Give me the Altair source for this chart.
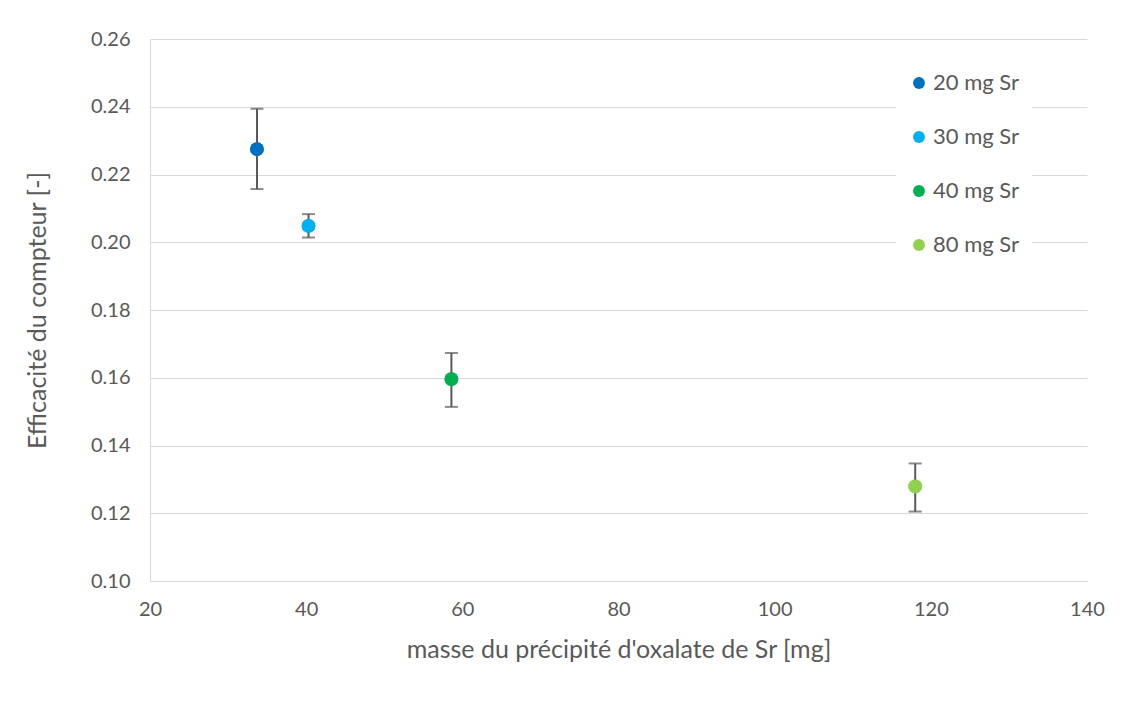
import altair as alt
import pandas as pd

series = ["20 mg Sr", "30 mg Sr", "40 mg Sr", "80 mg Sr"]
masse = [33.7, 40.3, 58.6, 118.0]
efficacite = [0.2275, 0.2048, 0.1596, 0.1279]
err_haut = [0.2394, 0.2083, 0.1673, 0.1347]
err_bas = [0.2157, 0.2014, 0.1514, 0.1205]
couleurs = ["#0070C0", "#00B0F0", "#00B050", "#92D050"]

df = pd.DataFrame({
    "serie": series,
    "x": masse,
    "y": efficacite,
    "hi": err_haut,
    "lo": err_bas,
})

FONT = "Lato"
GREY = "#595959"

xscale = alt.Scale(domain=[20, 140], nice=False, zero=False)
yscale = alt.Scale(domain=[0.10, 0.26], nice=False, zero=False)

base = alt.Chart(df)

x_enc = alt.X("x:Q", scale=xscale,
              axis=alt.Axis(values=[20, 40, 60, 80, 100, 120, 140], grid=False,
                            ticks=False, domain=True, domainColor="#d9d9d9",
                            labelFlush=False, labelPadding=18, titlePadding=18,
                            title="masse du précipité d'oxalate de Sr [mg]"))
y_enc = alt.Y("y:Q", scale=yscale,
              axis=alt.Axis(values=[0.10, 0.12, 0.14, 0.16, 0.18, 0.20, 0.22, 0.24, 0.26],
                            format=".2f", grid=True, gridColor="#d9d9d9",
                            ticks=False, domain=True, domainColor="#d9d9d9",
                            labelFlush=False, labelPadding=20, titlePadding=40,
                            title="Efficacité du compteur [-]"))

rule = base.mark_rule(color=GREY, strokeWidth=2).encode(
    x=alt.X("x:Q", scale=xscale),
    y=alt.Y("lo:Q", scale=yscale),
    y2="hi:Q",
)
cap_hi = base.mark_tick(color=GREY, thickness=2, size=13, orient="horizontal").encode(
    x=alt.X("x:Q", scale=xscale),
    y=alt.Y("hi:Q", scale=yscale),
)
cap_lo = base.mark_tick(color=GREY, thickness=2, size=13, orient="horizontal").encode(
    x=alt.X("x:Q", scale=xscale),
    y=alt.Y("lo:Q", scale=yscale),
)
points = base.mark_circle(size=190, opacity=1).encode(
    x=x_enc,
    y=y_enc,
    color=alt.Color("serie:N",
                    scale=alt.Scale(domain=series, range=couleurs),
                    legend=alt.Legend(title=None, orient="none", legendX=746, legendY=21,
                                      fillColor="white", padding=12, rowPadding=32,
                                      symbolType="circle", symbolSize=140,
                                      symbolStrokeWidth=0, labelFontSize=22,
                                      labelColor=GREY, labelFont=FONT, labelOffset=3)),
)

chart = alt.layer(points, rule, cap_hi, cap_lo, points).properties(
    width=937, height=542,
    autosize=alt.AutoSizeParams(type="none"),
    padding={"left": 142, "top": 31, "right": 38, "bottom": 100},
).configure_axis(
    labelFont=FONT, labelFontSize=20, labelColor=GREY,
    titleFont=FONT, titleFontSize=25, titleColor=GREY, titleFontWeight="normal",
).configure_view(stroke=None)

chart.save("out.html", embed_options={"renderer": "svg", "actions": False})
